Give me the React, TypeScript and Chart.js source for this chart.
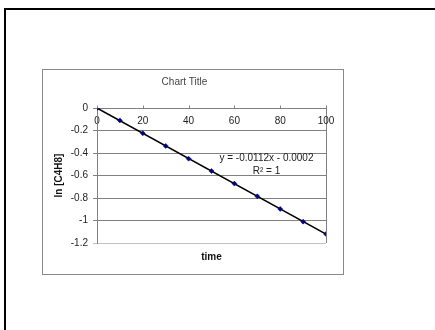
import React, { useEffect, useRef } from "react";
import { Chart, registerables } from "chart.js";

Chart.register(...registerables);

const timeValues = [0, 10, 20, 30, 40, 50, 60, 70, 80, 90, 100];
const lnValues = [0, -0.11, -0.225, -0.337, -0.45, -0.56, -0.672, -0.785, -0.897, -1.01, -1.12];
const trendSlope = -0.0112;
const trendIntercept = -0.0002;
const trendLabelLines = ["y = -0.0112x - 0.0002", "R\u00B2 = 1"];
const trendLabelAnchor = { x: 74, y: -0.445 };
const chartTitle = "Chart Title";
const xTitle = "time";
const yTitle = "ln [C4H8]";

const FONT = "'Liberation Sans', Arial, sans-serif";

export default function App() {
  const ref = useRef<HTMLCanvasElement | null>(null);

  useEffect(() => {
    if (!ref.current) return;
    const trendX = [timeValues[0], timeValues[timeValues.length - 1]];
    const trendLabelPlugin = {
      id: "trendLabel",
      afterDatasetsDraw(chart: any) {
        const { ctx, scales } = chart;
        const px = scales.x.getPixelForValue(trendLabelAnchor.x);
        const py = scales.y.getPixelForValue(trendLabelAnchor.y);
        ctx.save();
        ctx.font = `10px ${FONT}`;
        ctx.fillStyle = "#222";
        ctx.textAlign = "center";
        ctx.textBaseline = "middle";
        trendLabelLines.forEach((line, i) => {
          ctx.fillText(line, px, py + i * 13);
        });
        ctx.restore();
      },
    };
    const upTicksPlugin = {
      id: "upTicks",
      afterDraw(chart: any) {
        const { ctx, scales } = chart;
        const xs = scales.x;
        const y0 = Math.round(scales.y.getPixelForValue(0)) + 0.5;
        ctx.save();
        ctx.strokeStyle = "#808080";
        ctx.lineWidth = 1;
        xs.ticks.forEach((t: any) => {
          const px = Math.round(xs.getPixelForValue(t.value)) + 0.5;
          ctx.beginPath();
          ctx.moveTo(px, y0);
          ctx.lineTo(px, y0 - 3);
          ctx.stroke();
        });
        ctx.restore();
      },
    };
    const chart = new Chart(ref.current, {
      type: "scatter",
      data: {
        datasets: [
          {
            type: "line",
            data: trendX.map((x) => ({ x, y: trendSlope * x + trendIntercept })),
            borderColor: "#000",
            borderWidth: 1.5,
            pointRadius: 0,
            fill: false,
            order: 2,
          },
          {
            data: timeValues.map((x, i) => ({ x, y: lnValues[i] })),
            pointStyle: "rectRot",
            pointRadius: 2.5,
            backgroundColor: "#000080",
            borderColor: "#000080",
            borderWidth: 0.5,
            showLine: false,
            order: 1,
          },
        ],
      },
      plugins: [trendLabelPlugin, upTicksPlugin],
      options: {
        animation: false,
        responsive: false,
        maintainAspectRatio: false,
        layout: { padding: { left: 0, right: 17, top: 0, bottom: 3 } },
        plugins: {
          legend: { display: false },
          tooltip: { enabled: false },
          title: {
            display: true,
            text: chartTitle,
            color: "#444",
            font: { family: FONT, size: 10, weight: "normal" },
            padding: { top: 6, bottom: 20 },
          },
        },
        scales: {
          x: {
            type: "linear",
            min: 0,
            max: 100,
            position: { y: 0 } as any,
            ticks: {
              stepSize: 20,
              color: "#222",
              font: { family: FONT, size: 10 },
              padding: 7,
              maxRotation: 0,
            },
            grid: {
              color: (c: any) => (c.tick && c.tick.value === 100 ? "#808080" : "rgba(0,0,0,0)"),
              drawTicks: false,
              lineWidth: 1,
            },
            border: { display: true, color: "#808080", width: 1 },
          },
          x2: {
            type: "linear",
            min: 0,
            max: 100,
            position: "bottom",
            ticks: { display: false },
            grid: { display: false, drawTicks: false },
            border: { display: false },
            title: {
              display: true,
              text: xTitle,
              color: "#111",
              font: { family: FONT, size: 10, weight: "bold" },
              padding: { top: 8, bottom: 8 },
            },
          },
          y: {
            type: "linear",
            min: -1.2,
            max: 0,
            ticks: {
              stepSize: 0.2,
              color: "#222",
              font: { family: FONT, size: 10 },
              padding: 5,
              callback: (v: any) => String(Number(Number(v).toFixed(1))),
            },
            grid: {
              color: (c: any) =>
                c.tick && Math.abs(c.tick.value + 1.2) < 1e-6 ? "#c0c0c0" : "#808080",
              tickLength: 4,
              lineWidth: 1,
            },
            border: { display: true, color: "#808080", width: 1 },
            title: {
              display: true,
              text: yTitle,
              color: "#111",
              font: { family: FONT, size: 10, weight: "bold" },
              padding: { top: 10, bottom: 0 },
            },
            afterFit: (s: any) => {
              s.width = 54;
            },
          },
        },
      },
    });
    return () => chart.destroy();
  }, []);

  return (
    <div
      style={{
        position: "fixed",
        left: 0,
        top: 0,
        width: 435,
        height: 330,
        overflow: "hidden",
        background: "#fff",
      }}
    >
      <div
        style={{
          position: "absolute",
          left: 4,
          top: 8,
          width: 460,
          height: 360,
          border: "2px solid #000",
        }}
      />
      <div
        style={{
          position: "absolute",
          left: 42,
          top: 69,
          width: 300,
          height: 204,
          border: "1px solid #888",
          background: "#fff",
        }}
      >
        <canvas ref={ref} width={300} height={204} style={{ display: "block", width: 300, height: 204 }} />
      </div>
    </div>
  );
}
